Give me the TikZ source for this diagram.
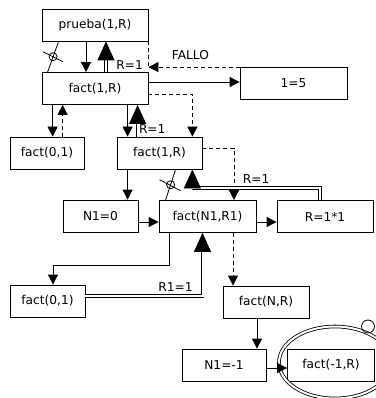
\documentclass[tikz,border=0pt]{standalone}
\usepackage{fontspec}
\setmainfont{DejaVu Sans}
\usetikzlibrary{arrows.meta,shapes.geometric,positioning}

\begin{document}
\begin{tikzpicture}[x=1pt,y=-1pt,line width=0.8pt,
    font=\fontsize{12.2}{14}\selectfont,
    goalbox/.style={rectangle,draw,inner sep=0pt,minimum height=32pt},
    call/.style={-{Triangle[length=10pt,width=10pt]}},
    redo/.style={dash pattern=on 4pt off 3pt,-{Triangle[length=10pt,width=10pt]}},
    answer/.style={double,double distance=2pt,-{Triangle[length=19pt,width=17pt]}},
    cutmark/.style={circle,draw,inner sep=0pt,minimum size=8pt}]
  \useasboundingbox (0,0) rectangle (375,398);

  % goals
  \node[goalbox,minimum width=106pt] (prueba) at (95,25) {prueba(1,R)};
  \node[goalbox,minimum width=106pt] (factA) at (95,88.5) {fact(1,R)};
  \node[goalbox,minimum width=107pt] (uno) at (293.5,83.5) {1=5};
  \node[goalbox,minimum width=74pt] (factB) at (47,153) {fact(0,1)};
  \node[goalbox,minimum width=85pt] (factC) at (159.5,153) {fact(1,R)};
  \node[goalbox,minimum width=75pt] (nzero) at (100.5,216) {N1=0};
  \node[goalbox,minimum width=97pt] (factD) at (207.5,216.5) {fact(N1,R1)};
  \node[goalbox,minimum width=96pt] (rmul) at (325,216.5) {R=1*1};
  \node[goalbox,minimum width=75pt] (factE) at (47.5,301) {fact(0,1)};
  \node[goalbox,minimum width=86pt] (factF) at (266,302) {fact(N,R)};
  \node[goalbox,minimum width=84pt] (nmin) at (224,365) {N1=-1};
  \node[goalbox,minimum width=87pt] (factG) at (331,365) {fact(-1,R)};
  \node[ellipse,draw,double,double distance=2pt,minimum width=112pt,
        minimum height=72pt] (fail) at (335,362.5) {};
  \node[circle,draw,inner sep=0pt,minimum size=13pt] (mark) at (368,326.5) {};

  % prueba / fact(1,R)
  \draw[call] ([xshift=-9pt]prueba.south) -- ([xshift=-9pt]factA.north);
  \draw[answer] ([xshift=11pt]factA.north) --
      node[pos=0.22,right=10pt,inner sep=0pt] {R=1} ([xshift=11pt]prueba.south);
  \draw ([xshift=6pt]factA.north west) --
      node[cutmark] (cutA) {} ([xshift=17pt]prueba.south west);
  \draw ([shift={(-10,-5)}]cutA.center) -- ([shift={(10,5)}]cutA.center);
  \coordinate (fallo) at (prueba.south east |- uno.north west);
  \draw[dash pattern=on 4pt off 3pt] (prueba.south east) -- (fallo);
  \draw[redo] (uno.north west) -- node[pos=0.54,above=4pt] {FALLO} (fallo);
  \draw[call] ([yshift=1.5pt]factA.east |- uno.west) -- ([yshift=1.5pt]uno.west);

  % fact(1,R) / fact(0,1)
  \draw[call] ([xshift=11pt]factA.south west) -- ([xshift=11pt]factA.south west |- factB.north);
  \draw[redo] ([xshift=21pt]factA.south west |- factB.north) -- ([xshift=21pt]factA.south west);

  % fact(1,R) / fact(1,R)
  \draw[call] ([xshift=11pt]factC.north west |- factA.south) -- ([xshift=11pt]factC.north west);
  \draw[answer] ([xshift=21pt]factC.north west) --
      node[pos=0.24,right=1pt,inner sep=0pt] {R=1} ([xshift=21pt]factC.north west |- factA.south);
  \draw[redo] ([yshift=-5.5pt]factA.east) -| ([xshift=-10pt]factC.north east);

  % fact(1,R) / fact(N1,R1)
  \draw[call] ([xshift=11pt]factC.south west) -- ([xshift=11pt]factC.south west |- nzero.north);
  \draw[call] ([yshift=-6pt]nzero.east) -- ([yshift=-6pt]nzero.east -| factD.west);
  \draw ([xshift=7pt]factD.north west) --
      node[cutmark] (cutC) {} ([xshift=59pt]factC.south west);
  \draw ([shift={(-11,-5)}]cutC.center) -- ([shift={(10,6)}]cutC.center);
  \draw[redo] ([yshift=5pt]factC.east) -| ([xshift=26.5pt]factD.north);
  \draw[call] ([yshift=-5.5pt]factD.east) -- ([yshift=-5.5pt]factD.east -| rmul.west);
  \draw[answer] ([xshift=-5pt]rmul.north) -- ++(0,-12)
      -| node[pos=0.25,above=1pt] {R=1} ([xshift=-10pt]factC.south east);

  % fact(N1,R1) / fact(0,1), fact(N,R)
  \draw[call] ([xshift=11pt]factD.south west) -- ++(0,32) -| ([xshift=5.5pt]factE.north);
  \draw[answer] ([yshift=5pt]factE.east) -|
      node[pos=0.385,above=1pt] {R1=1} ([xshift=-5pt]factD.south);
  \draw[redo] ([xshift=25.5pt]factD.south) -- ([xshift=25.5pt]factD.south |- factF.north);
  \draw[call] ([xshift=-9pt]factF.south) -- ([xshift=-9pt]factF.south |- nmin.north);
  \draw[call] ([yshift=-3pt]nmin.east) -- ([yshift=-3pt]nmin.east -| factG.west);
\end{tikzpicture}
\end{document}
